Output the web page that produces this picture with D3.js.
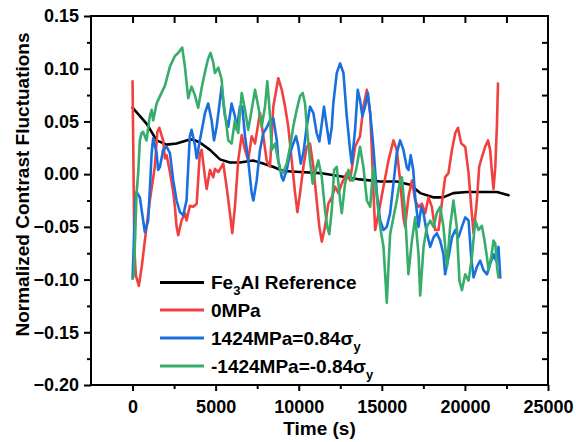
<!DOCTYPE html>
<html lang="en">
<head>
<meta charset="UTF-8">
<title>Normalized Contrast Fluctuations</title>
<script src="https://d3js.org/d3.v7.min.js"></script>
<style>
  body { margin: 0; background: #fff; }
  svg { display: block; font-family: "Liberation Sans", Arial, sans-serif; font-weight: bold; }
</style>
</head>
<body>
<svg id="chart" width="576" height="442"></svg>
<script>
// ticks
const xMajor = [0, 5000, 10000, 15000, 20000, 25000];
const xMinor = [2500, 7500, 12500, 17500, 22500];
const yMajor = [-0.20, -0.15, -0.10, -0.05, 0.00, 0.05, 0.10, 0.15];
const yMinor = [-0.175, -0.125, -0.075, -0.025, 0.025, 0.075, 0.125];

// series [time (s), value]
const fe3alRef = [[0,0.063],[840,0.048],[1450,0.032],[2050,0.028],[2650,0.029],[3250,0.032],[3630,0.033],[4050,0.030],[4660,0.023],[5260,0.014],[5860,0.011],[6460,0.011],[7250,0.013],[7850,0.010],[8450,0.007],[9050,0.003],[10080,0.002],[11280,0.001],[12490,-0.002],[13690,-0.005],[14900,-0.007],[15900,-0.007],[16700,-0.010],[17310,-0.018],[18090,-0.022],[18690,-0.022],[19300,-0.018],[20120,-0.017],[21330,-0.017],[21930,-0.017],[22630,-0.020]];

const mpa0 = [[0,0.088],[110,-0.072],[200,-0.096],[380,-0.106],[560,-0.087],[740,-0.063],[1040,-0.025],[1340,0.007],[1490,0.040],[1610,0.044],[1840,0.032],[1950,0.015],[2050,0.018],[2250,0.002],[2430,-0.015],[2550,-0.031],[2650,-0.050],[2750,-0.058],[2950,-0.044],[3150,-0.037],[3250,-0.044],[3450,-0.030],[3650,-0.031],[3860,-0.028],[4050,0.020],[4160,0.023],[4360,-0.003],[4460,-0.014],[4660,0.004],[4860,-0.003],[4960,0.005],[5160,0.002],[5460,0.010],[5660,-0.012],[5860,-0.037],[6000,-0.056],[6160,-0.031],[6360,0.013],[6570,0.037],[6770,0.023],[6960,0.013],[7170,0.036],[7370,0.029],[7670,0.058],[7870,0.036],[8070,0.013],[8270,0.007],[8470,0.064],[8770,0.091],[8980,0.080],[9180,0.064],[9370,0.045],[9580,0.013],[9780,-0.018],[9920,-0.036],[10080,-0.018],[10280,0.007],[10480,0.026],[10680,0.029],[10880,0.007],[11080,-0.025],[11240,-0.050],[11390,-0.064],[11580,-0.050],[11780,-0.028],[11990,-0.022],[12190,-0.012],[12390,-0.018],[12590,-0.009],[12890,0.001],[13090,-0.006],[13390,0.026],[13690,0.036],[13890,0.064],[14100,0.080],[14300,0.058],[14400,0.023],[14490,-0.015],[14600,-0.053],[14800,-0.037],[15100,-0.012],[15400,0.013],[15700,0.032],[15900,0.023],[16100,-0.006],[16300,-0.041],[16400,-0.050],[16600,-0.022],[16810,-0.006],[17010,-0.025],[17210,-0.031],[17410,-0.028],[17610,-0.037],[17810,-0.022],[18010,-0.031],[18210,-0.053],[18410,-0.053],[18610,-0.028],[18810,-0.003],[19010,0.001],[19220,0.023],[19420,0.039],[19580,0.044],[19780,0.029],[20020,0.026],[20220,0.001],[20380,-0.031],[20520,-0.056],[20720,-0.025],[20860,0.007],[21020,0.016],[21220,0.026],[21390,0.032],[21520,0.023],[21630,0.001],[21720,-0.014],[21830,0.007],[21930,0.048],[21990,0.086]];

const mpa1424 = [[0,-0.099],[170,-0.025],[240,-0.017],[440,-0.022],[640,-0.044],[740,-0.055],[940,-0.044],[1040,-0.015],[1150,0.020],[1240,0.034],[1450,0.020],[1540,0.004],[1650,0.007],[1840,0.023],[2050,0.026],[2250,0.020],[2450,-0.006],[2650,-0.025],[2850,-0.036],[3050,-0.039],[3250,-0.025],[3350,0.007],[3450,0.036],[3550,0.042],[3750,0.028],[3860,0.015],[4050,0.032],[4360,0.058],[4550,0.067],[4760,0.051],[4900,0.032],[5060,0.045],[5260,0.070],[5360,0.083],[5560,0.055],[5760,0.045],[5960,0.067],[6160,0.055],[6270,0.042],[6460,0.064],[6600,0.064],[6770,0.036],[6960,0.013],[7170,-0.018],[7270,-0.025],[7470,-0.006],[7670,0.023],[7870,0.039],[8070,0.044],[8270,0.051],[8470,0.053],[8680,0.032],[8770,0.013],[8980,-0.003],[9070,-0.006],[9280,0.004],[9480,0.020],[9670,0.029],[9840,0.036],[9980,0.026],[10120,0.010],[10280,0.020],[10480,0.045],[10680,0.064],[10880,0.058],[11080,0.039],[11240,0.031],[11390,0.048],[11520,0.064],[11690,0.045],[11840,0.029],[11990,0.045],[12080,0.067],[12290,0.096],[12490,0.105],[12690,0.096],[12890,0.055],[13090,0.023],[13190,0.010],[13390,0.042],[13550,0.080],[13690,0.070],[13830,0.055],[13990,0.064],[14160,0.077],[14300,0.058],[14490,0.026],[14700,-0.018],[14900,-0.044],[15100,-0.053],[15300,-0.050],[15500,-0.037],[15700,-0.009],[15900,0.020],[16100,0.032],[16300,0.023],[16510,0.006],[16610,0.004],[16740,0.018],[16890,0.004],[17010,-0.022],[17210,-0.050],[17370,-0.031],[17510,-0.037],[17710,-0.056],[17910,-0.069],[18110,-0.060],[18310,-0.056],[18510,-0.063],[18710,-0.076],[18810,-0.095],[19010,-0.079],[19220,-0.060],[19420,-0.053],[19610,-0.060],[19820,-0.050],[20020,-0.041],[20220,-0.044],[20380,-0.079],[20520,-0.098],[20720,-0.088],[20920,-0.082],[21120,-0.091],[21330,-0.095],[21520,-0.085],[21720,-0.076],[21870,-0.082],[22020,-0.069],[22130,-0.098]];

const mpaNeg1424 = [[0,-0.099],[80,-0.096],[170,-0.053],[240,-0.018],[340,0.001],[440,0.032],[540,0.039],[640,0.040],[840,0.032],[1040,0.055],[1150,0.061],[1240,0.051],[1450,0.067],[1650,0.074],[1950,0.084],[2250,0.102],[2550,0.112],[2750,0.115],[2990,0.120],[3150,0.102],[3350,0.072],[3550,0.083],[3750,0.075],[3950,0.063],[4160,0.082],[4360,0.097],[4540,0.109],[4690,0.115],[4840,0.107],[4960,0.096],[5160,0.101],[5360,0.090],[5460,0.070],[5660,0.045],[5760,0.032],[5960,0.029],[6160,0.051],[6360,0.039],[6570,0.077],[6770,0.061],[6960,0.042],[7170,0.061],[7370,0.080],[7570,0.064],[7770,0.045],[7970,0.064],[8110,0.088],[8270,0.056],[8370,0.023],[8570,0.029],[8680,0.020],[8870,0.004],[9040,0.001],[9280,0.010],[9480,0.026],[9670,0.045],[9880,0.061],[10080,0.074],[10240,0.077],[10380,0.067],[10520,0.039],[10680,0.013],[10840,-0.009],[10980,0.001],[11180,0.013],[11390,-0.003],[11580,-0.034],[11720,-0.050],[11840,-0.057],[11990,-0.034],[12130,0.004],[12290,0.007],[12490,-0.025],[12590,-0.037],[12790,-0.009],[12990,0.004],[13190,-0.006],[13290,-0.006],[13490,0.007],[13690,0.026],[13890,0.007],[14100,-0.025],[14300,-0.031],[14490,0.007],[14700,-0.022],[14900,-0.050],[15100,-0.069],[15200,-0.095],[15300,-0.122],[15400,-0.088],[15500,-0.057],[15700,-0.041],[15900,-0.025],[16100,-0.006],[16210,-0.003],[16400,-0.037],[16600,-0.095],[16810,-0.063],[17010,-0.041],[17210,-0.076],[17310,-0.115],[17510,-0.069],[17710,-0.050],[17910,-0.044],[18110,-0.050],[18310,-0.037],[18510,-0.031],[18710,-0.050],[18920,-0.088],[19110,-0.050],[19310,-0.025],[19510,-0.050],[19670,-0.101],[19820,-0.110],[20020,-0.095],[20220,-0.101],[20420,-0.079],[20620,-0.044],[20820,-0.053],[21020,-0.049],[21180,-0.063],[21330,-0.079],[21420,-0.091],[21580,-0.079],[21720,-0.063],[21830,-0.066],[21930,-0.088],[22020,-0.098]];

const seriesData = [fe3alRef, mpa0, mpa1424, mpaNeg1424];
const seriesColors = ["#000000", "#F14040", "#1A6FDF", "#37AD6B"];
// legend labels, split into [text, "sub" for subscript]
const legendLabels = [
  [["Fe"], ["3", "sub"], ["Al Reference"]],
  [["0MPa"]],
  [["1424MPa=0.84"], ["σ"], ["y", "sub"]],
  [["-1424MPa=-0.84"], ["σ"], ["y", "sub"]]
];

const svg = d3.select("#chart");
const plotLeft = 91, plotRight = 548, plotTop = 16, plotBottom = 385;

const x = d3.scaleLinear().domain([-2500, 25000]).range([plotLeft, plotRight]);
const y = d3.scaleLinear().domain([-0.20, 0.15]).range([plotBottom, plotTop]);

svg.append("rect").attr("width", 576).attr("height", 442).attr("fill", "#fff");

// curves
const line = d3.line().x(d => x(d[0])).y(d => y(d[1]));
svg.append("g").selectAll("path")
  .data(seriesData)
  .enter().append("path")
  .attr("d", line)
  .attr("fill", "none")
  .attr("stroke", (d, i) => seriesColors[i])
  .attr("stroke-width", 2.6)
  .attr("stroke-linejoin", "round")
  .attr("stroke-linecap", "round");

function styleAxis(g) {
  g.select(".domain").remove();
  g.selectAll(".tick line").attr("stroke", "#000").attr("stroke-width", 2);
  g.selectAll(".tick text").attr("fill", "#000").attr("font-size", 18).attr("font-weight", "bold")
    .attr("font-family", '"Liberation Sans", Arial, sans-serif');
}

// bottom axis
svg.append("g").attr("transform", `translate(0,${plotBottom})`)
  .call(d3.axisBottom(x).tickValues(xMajor).tickSize(6).tickPadding(9).tickFormat(d3.format("d")))
  .call(styleAxis);
svg.append("g").attr("transform", `translate(0,${plotBottom})`)
  .call(d3.axisBottom(x).tickValues(xMinor).tickSize(4).tickFormat(""))
  .call(styleAxis);

// top axis, inward ticks
svg.append("g").attr("transform", `translate(0,${plotTop})`)
  .call(d3.axisBottom(x).tickValues(xMajor.concat(xMinor).filter(v => v < 25000)).tickSize(7).tickFormat(""))
  .call(styleAxis);

// left axis
svg.append("g").attr("transform", `translate(${plotLeft},0)`)
  .call(d3.axisLeft(y).tickValues(yMajor).tickSize(7).tickPadding(5).tickFormat(d3.format(".2f")))
  .call(styleAxis);
svg.append("g").attr("transform", `translate(${plotLeft},0)`)
  .call(d3.axisLeft(y).tickValues(yMinor).tickSize(4).tickFormat(""))
  .call(styleAxis);

// right axis, inward ticks
svg.append("g").attr("transform", `translate(${plotRight},0)`)
  .call(d3.axisLeft(y).tickValues(yMajor.concat(yMinor).filter(v => v > -0.2 && v < 0.15)).tickSize(6).tickFormat(""))
  .call(styleAxis);

// frame
svg.append("rect")
  .attr("x", plotLeft).attr("y", plotTop)
  .attr("width", plotRight - plotLeft).attr("height", plotBottom - plotTop)
  .attr("fill", "none").attr("stroke", "#000").attr("stroke-width", 2);

// axis titles
svg.append("text")
  .attr("x", (plotLeft + plotRight) / 2).attr("y", 435)
  .attr("text-anchor", "middle").attr("font-size", 19)
  .text("Time (s)");

svg.append("text")
  .attr("transform", `translate(28.5,${(32 + 337) / 2}) rotate(-90)`)
  .attr("text-anchor", "middle").attr("font-size", 19)
  .text("Normalized Contrast Fluctuations");

// legend
const legendY = [282.5, 310, 338, 366];
const legend = svg.append("g");
legendLabels.forEach((parts, i) => {
  legend.append("line")
    .attr("x1", 160).attr("x2", 204)
    .attr("y1", legendY[i]).attr("y2", legendY[i])
    .attr("stroke", seriesColors[i]).attr("stroke-width", 2.8);
  const t = legend.append("text")
    .attr("x", 211).attr("y", legendY[i]).attr("dy", "0.36em")
    .attr("font-size", 19);
  parts.forEach((p, j) => {
    const ts = t.append("tspan").text(p[0]);
    if (p[1] === "sub") ts.attr("font-size", 13).attr("dy", 6);
    else if (j > 0 && parts[j - 1][1] === "sub") ts.attr("dy", -6);
  });
});
</script>
</body>
</html>
